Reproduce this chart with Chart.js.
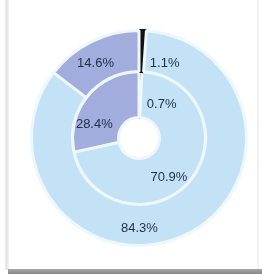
<!DOCTYPE html>
<html lang="en">
<head>
    <meta charset="UTF-8">
    <title>Doughnut</title>
    <script src="https://cdn.jsdelivr.net/npm/chart.js"></script>
    <style>
        body {
            margin: 0;
            width: 262px;
            height: 274px;
            background: #ffffff;
            position: relative;
            overflow: hidden;
        }
        #frameLeft {
            position: absolute;
            left: 4px;
            top: 0;
            width: 5px;
            height: 270px;
            background: linear-gradient(to right, #ffffff, #e2e2e2, #f4f4f4);
        }
        #frameRight {
            position: absolute;
            right: 3px;
            top: 0;
            width: 2px;
            height: 270px;
            background: #f1f1f1;
        }
        #frameBottom {
            position: absolute;
            left: 8px;
            bottom: 0;
            width: 254px;
            height: 5px;
            background: linear-gradient(to bottom, #a8a8a8, #858585);
        }
        #wrap {
            position: absolute;
            left: 30px;
            top: 29px;
            width: 218px;
            height: 218px;
        }
    </style>
</head>
<body>
    <div id="frameLeft"></div>
    <div id="frameRight"></div>
    <div id="frameBottom"></div>
    <div id="wrap"><canvas id="ringChart"></canvas></div>

    <script>
        // values in percent, clockwise from 12 o'clock
        const categories = ['A', 'B', 'C'];
        const outerValues = [1.1, 84.3, 14.6];
        const innerValues = [0.7, 70.9, 28.4];
        const sliceColors = ['#111111', '#c4e2f6', '#a2acdd'];
        const edgeColors = ['#111111', '#eef7fd', '#eef7fd'];

        // label placement: angular nudge (degrees) and fraction across the ring
        const outerLabelShift = [17, 24, -4];
        const innerLabelShift = [33, 13, -22];
        const outerLabelDepth = [0.3, 0.58, 0.48];
        const innerLabelDepth = [0.43, 0.64, 0.57];

        const labelPlugin = {
            id: 'ringLabels',
            afterDatasetsDraw(chart) {
                const ctx = chart.ctx;
                ctx.save();
                ctx.font = '13px "Liberation Sans", Arial, sans-serif';
                ctx.fillStyle = '#1f2f48';
                ctx.textAlign = 'center';
                ctx.textBaseline = 'middle';
                chart.data.datasets.forEach((ds, di) => {
                    const meta = chart.getDatasetMeta(di);
                    const shifts = di === 0 ? outerLabelShift : innerLabelShift;
                    const depth = di === 0 ? outerLabelDepth : innerLabelDepth;
                    meta.data.forEach((arc, i) => {
                        const p = arc.getProps(['x', 'y', 'startAngle', 'endAngle', 'innerRadius', 'outerRadius'], true);
                        const a = (p.startAngle + p.endAngle) / 2 + shifts[i] * Math.PI / 180;
                        const r = p.innerRadius + (p.outerRadius - p.innerRadius) * depth[i];
                        ctx.fillText(ds.data[i].toFixed(1) + '%', p.x + Math.cos(a) * r, p.y + Math.sin(a) * r);
                    });
                });
                ctx.restore();
            }
        };

        new Chart(document.getElementById('ringChart'), {
            type: 'doughnut',
            data: {
                labels: categories,
                datasets: [
                    {
                        data: outerValues,
                        backgroundColor: sliceColors,
                        borderColor: edgeColors,
                        borderWidth: 3,
                        weight: 41
                    },
                    {
                        data: innerValues,
                        backgroundColor: sliceColors,
                        borderColor: edgeColors,
                        borderWidth: 3,
                        weight: 46
                    }
                ]
            },
            options: {
                responsive: true,
                maintainAspectRatio: false,
                animation: false,
                cutout: '19%',
                layout: { padding: 0 },
                plugins: {
                    legend: { display: false },
                    tooltip: { enabled: false }
                }
            },
            plugins: [labelPlugin]
        });
    </script>
</body>
</html>
